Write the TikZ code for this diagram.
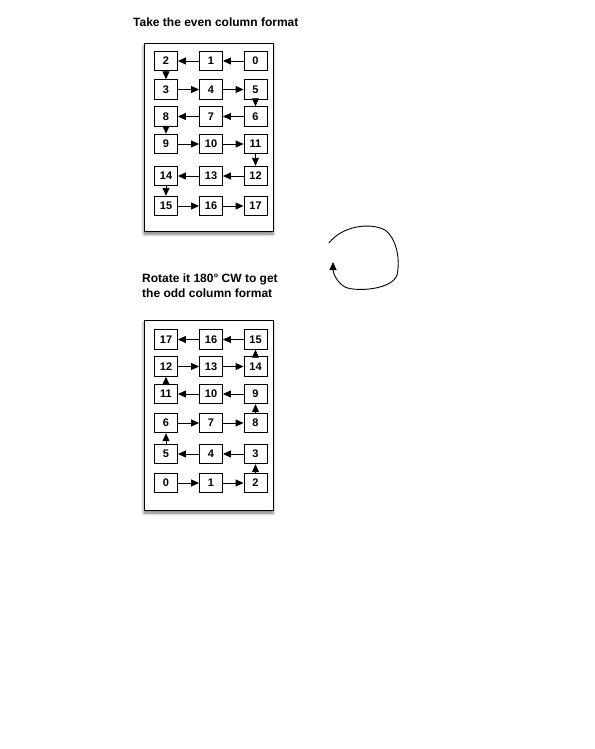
\documentclass[tikz,border=0pt]{standalone}
\usepackage{fontspec}
\setmainfont{Liberation Sans}
\usetikzlibrary{arrows.meta,shadows.blur}
\begin{document}
\begin{tikzpicture}[x=1pt,y=-1pt,
 cell/.style={draw,line width=0.9pt,minimum width=23pt,minimum height=19.5pt,inner sep=0pt,font=\bfseries\fontsize{11}{12}\selectfont,fill=white},
 frame/.style={draw,line width=0.9pt,fill=white,inner sep=0pt,blur shadow={shadow xshift=0pt,shadow yshift=-3pt,shadow blur radius=3pt,shadow opacity=55}},
 link/.style={-{Triangle[length=8pt,width=7pt]},line width=0.9pt},
 lbl/.style={font=\bfseries\fontsize{12}{15}\selectfont,anchor=west,inner sep=0pt,align=left}]
\useasboundingbox (0,0) rectangle (594,749);
% titles
\node[lbl] (title1) at (133,22) {Take the even column format};
\node[lbl] (title2) at (142,285.5) {Rotate it 180° CW to get\\the odd column format};
% frames
\node[frame,minimum width=129pt,minimum height=188pt] (topframe) at (208.5,137) {};
\node[frame,minimum width=129pt,minimum height=190pt] (botframe) at (208.5,415) {};
% top (even) cells
\node[cell] (t2) at (166,61) {2};
\node[cell] (t1) at (211,61) {1};
\node[cell] (t0) at (255.5,61) {0};
\node[cell] (t3) at (166,89.5) {3};
\node[cell] (t4) at (211,89.5) {4};
\node[cell] (t5) at (255.5,89.5) {5};
\node[cell] (t8) at (166,116.5) {8};
\node[cell] (t7) at (211,116.5) {7};
\node[cell] (t6) at (255.5,116.5) {6};
\node[cell] (t9) at (166,144) {9};
\node[cell] (t10) at (211,144) {10};
\node[cell] (t11) at (255.5,144) {11};
\node[cell] (t14) at (166,176) {14};
\node[cell] (t13) at (211,176) {13};
\node[cell] (t12) at (255.5,176) {12};
\node[cell] (t15) at (166,206) {15};
\node[cell] (t16) at (211,206) {16};
\node[cell] (t17) at (255.5,206) {17};
\draw[link] (t0) -- (t1);
\draw[link] (t1) -- (t2);
\draw[link] (t2) -- (t3);
\draw[link] (t3) -- (t4);
\draw[link] (t4) -- (t5);
\draw[link] (t5) -- (t6);
\draw[link] (t6) -- (t7);
\draw[link] (t7) -- (t8);
\draw[link] (t8) -- (t9);
\draw[link] (t9) -- (t10);
\draw[link] (t10) -- (t11);
\draw[link] (t11) -- (t12);
\draw[link] (t12) -- (t13);
\draw[link] (t13) -- (t14);
\draw[link] (t14) -- (t15);
\draw[link] (t15) -- (t16);
\draw[link] (t16) -- (t17);
% bottom (odd) cells
\node[cell] (b17) at (166,339.5) {17};
\node[cell] (b16) at (211,339.5) {16};
\node[cell] (b15) at (255.5,339.5) {15};
\node[cell] (b12) at (166,366.5) {12};
\node[cell] (b13) at (211,366.5) {13};
\node[cell] (b14) at (255.5,366.5) {14};
\node[cell] (b11) at (166,394) {11};
\node[cell] (b10) at (211,394) {10};
\node[cell] (b9) at (255.5,394) {9};
\node[cell] (b6) at (166,423) {6};
\node[cell] (b7) at (211,423) {7};
\node[cell] (b8) at (255.5,423) {8};
\node[cell] (b5) at (166,454) {5};
\node[cell] (b4) at (211,454) {4};
\node[cell] (b3) at (255.5,454) {3};
\node[cell] (b0) at (166,483) {0};
\node[cell] (b1) at (211,483) {1};
\node[cell] (b2) at (255.5,483) {2};
\draw[link] (b0) -- (b1);
\draw[link] (b1) -- (b2);
\draw[link] (b2) -- (b3);
\draw[link] (b3) -- (b4);
\draw[link] (b4) -- (b5);
\draw[link] (b5) -- (b6);
\draw[link] (b6) -- (b7);
\draw[link] (b7) -- (b8);
\draw[link] (b8) -- (b9);
\draw[link] (b9) -- (b10);
\draw[link] (b10) -- (b11);
\draw[link] (b11) -- (b12);
\draw[link] (b12) -- (b13);
\draw[link] (b13) -- (b14);
\draw[link] (b14) -- (b15);
\draw[link] (b15) -- (b16);
\draw[link] (b16) -- (b17);
% rotation loop
\draw[link] (329,243) .. controls (342,226) and (370,222) .. (385,230)
  .. controls (398,240) and (400,262) .. (397,275)
  .. controls (392,290) and (355,292) .. (345,287)
  .. controls (336,282) and (333,272) .. (333,262);
\end{tikzpicture}
\end{document}
